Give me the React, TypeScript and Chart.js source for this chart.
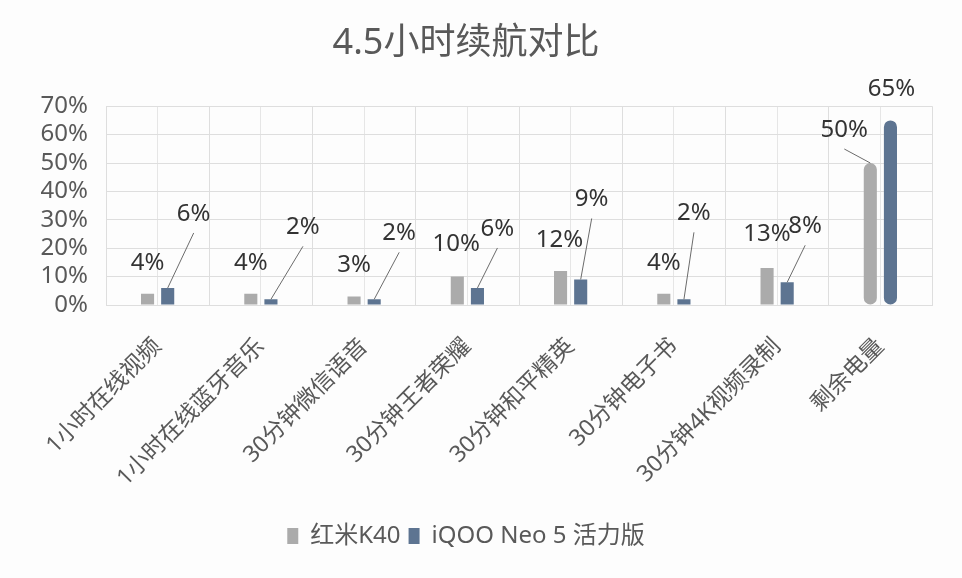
import React, { useEffect, useRef } from 'react';
import { Chart, registerables } from 'chart.js';

Chart.register(...registerables);

// chart data
const categories = [
  '1小时在线视频',
  '1小时在线蓝牙音乐',
  '30分钟微信语音',
  '30分钟王者荣耀',
  '30分钟和平精英',
  '30分钟电子书',
  '30分钟4K视频录制',
  '剩余电量',
];
const seriesNames = ['红米K40', 'iQOO Neo 5 活力版'];
const redmiValues = [4, 4, 3, 10, 12, 4, 13, 50];
const iqooValues = [6, 2, 2, 6, 9, 2, 8, 65];

// where each value label sits relative to the top of its bar (dragged labels, like in Excel)
const redmiLabelShift = [
  [0, -30], [0, -30], [0, -31], [-1, -32], [-1, -31], [0, -30], [0, -34], [-26, -33],
];
const iqooLabelShift = [
  [26, -74], [32, -72], [25, -66], [20, -59], [11, -80], [10, -86], [18, -56], [1, -31],
];

const GRAY = '#ababab';
const BLUE = '#5d7491';
const TEXT = '#595959';
const FONT = '"Noto Sans", "Noto Sans CJK SC", sans-serif';

const valueLabels = {
  id: 'valueLabels',
  afterDatasetsDraw(chart: any) {
    const ctx = chart.ctx;
    const shifts = [redmiLabelShift, iqooLabelShift];
    ctx.save();
    ctx.font = `24px ${FONT}`;
    ctx.textAlign = 'center';
    ctx.textBaseline = 'middle';
    chart.data.datasets.forEach((ds: any, di: number) => {
      const meta = chart.getDatasetMeta(di);
      meta.data.forEach((bar: any, i: number) => {
        const [dx, dy] = shifts[di][i];
        const lx = bar.x + dx;
        const ly = bar.y + dy;
        if (Math.abs(dx) > 5) {
          ctx.strokeStyle = '#6b6b6b';
          ctx.lineWidth = 1;
          ctx.beginPath();
          ctx.moveTo(lx, ly + 19);
          ctx.lineTo(bar.x, bar.y);
          ctx.stroke();
        }
        ctx.fillStyle = '#333333';
        ctx.fillText(ds.data[i] + '%', lx, ly);
      });
    });
    ctx.restore();
  },
};

const App: React.FC = () => {
  const chartRef = useRef<HTMLCanvasElement>(null);
  const chartInstance = useRef<Chart | null>(null);

  useEffect(() => {
    if (!chartRef.current) return;
    if (chartInstance.current) chartInstance.current.destroy();

    const ctx = chartRef.current.getContext('2d');
    if (!ctx) return;

    const rounded = (c: any) => (c.dataIndex === categories.length - 1 ? 7 : 0);

    chartInstance.current = new Chart(ctx, {
      type: 'bar',
      data: {
        labels: categories,
        datasets: [
          {
            label: seriesNames[0],
            data: redmiValues,
            backgroundColor: GRAY,
            categoryPercentage: 0.39,
            barPercentage: 0.65,
            borderRadius: rounded,
            borderSkipped: false,
          },
          {
            label: seriesNames[1],
            data: iqooValues,
            backgroundColor: BLUE,
            categoryPercentage: 0.39,
            barPercentage: 0.65,
            borderRadius: rounded,
            borderSkipped: false,
          },
        ],
      },
      options: {
        responsive: true,
        maintainAspectRatio: false,
        animation: false,
        layout: { padding: { top: 0, right: 30, bottom: 20, left: 0 } },
        plugins: {
          title: {
            display: true,
            text: '4.5小时续航对比',
            color: TEXT,
            font: { family: FONT, size: 36, weight: 'normal' },
            padding: { top: 22, bottom: 41 },
          },
          legend: {
            position: 'bottom',
            labels: {
              color: TEXT,
              font: { family: FONT, size: 24 },
              boxWidth: 11,
              boxHeight: 16,
              padding: 8,
            },
          },
          tooltip: { enabled: false },
        },
        scales: {
          x: {
            grid: { color: '#dedede', offset: true, drawTicks: false },
            border: { color: '#dedede' },
            ticks: {
              color: TEXT,
              font: { family: FONT, size: 23 },
              minRotation: 45,
              maxRotation: 45,
              padding: 28,
              autoSkip: false,
            },
            afterFit: (scale: any) => {
              scale.height = 211;
            },
          },
          x2: {
            type: 'category',
            position: 'top',
            offset: true,
            grid: { color: '#e6e6e6', offset: false, drawTicks: false },
            border: { display: false },
            ticks: { display: false },
          },
          y: {
            min: 0,
            max: 70,
            grid: { color: '#dedede', drawTicks: false },
            border: { color: '#dedede' },
            ticks: {
              stepSize: 10,
              autoSkip: false,
              color: TEXT,
              font: { family: FONT, size: 24 },
              padding: 18,
              callback: (v: any) => v + '%',
            },
            afterFit: (scale: any) => {
              scale.width = 106;
            },
          },
        },
      } as any,
      plugins: [valueLabels],
    });

    return () => {
      if (chartInstance.current) {
        chartInstance.current.destroy();
        chartInstance.current = null;
      }
    };
  }, []);

  return (
    <div
      style={{
        position: 'fixed',
        left: 0,
        top: 0,
        width: 962,
        height: 578,
        background: '#fdfdfd',
      }}
    >
      <canvas ref={chartRef} />
    </div>
  );
};

export default App;
